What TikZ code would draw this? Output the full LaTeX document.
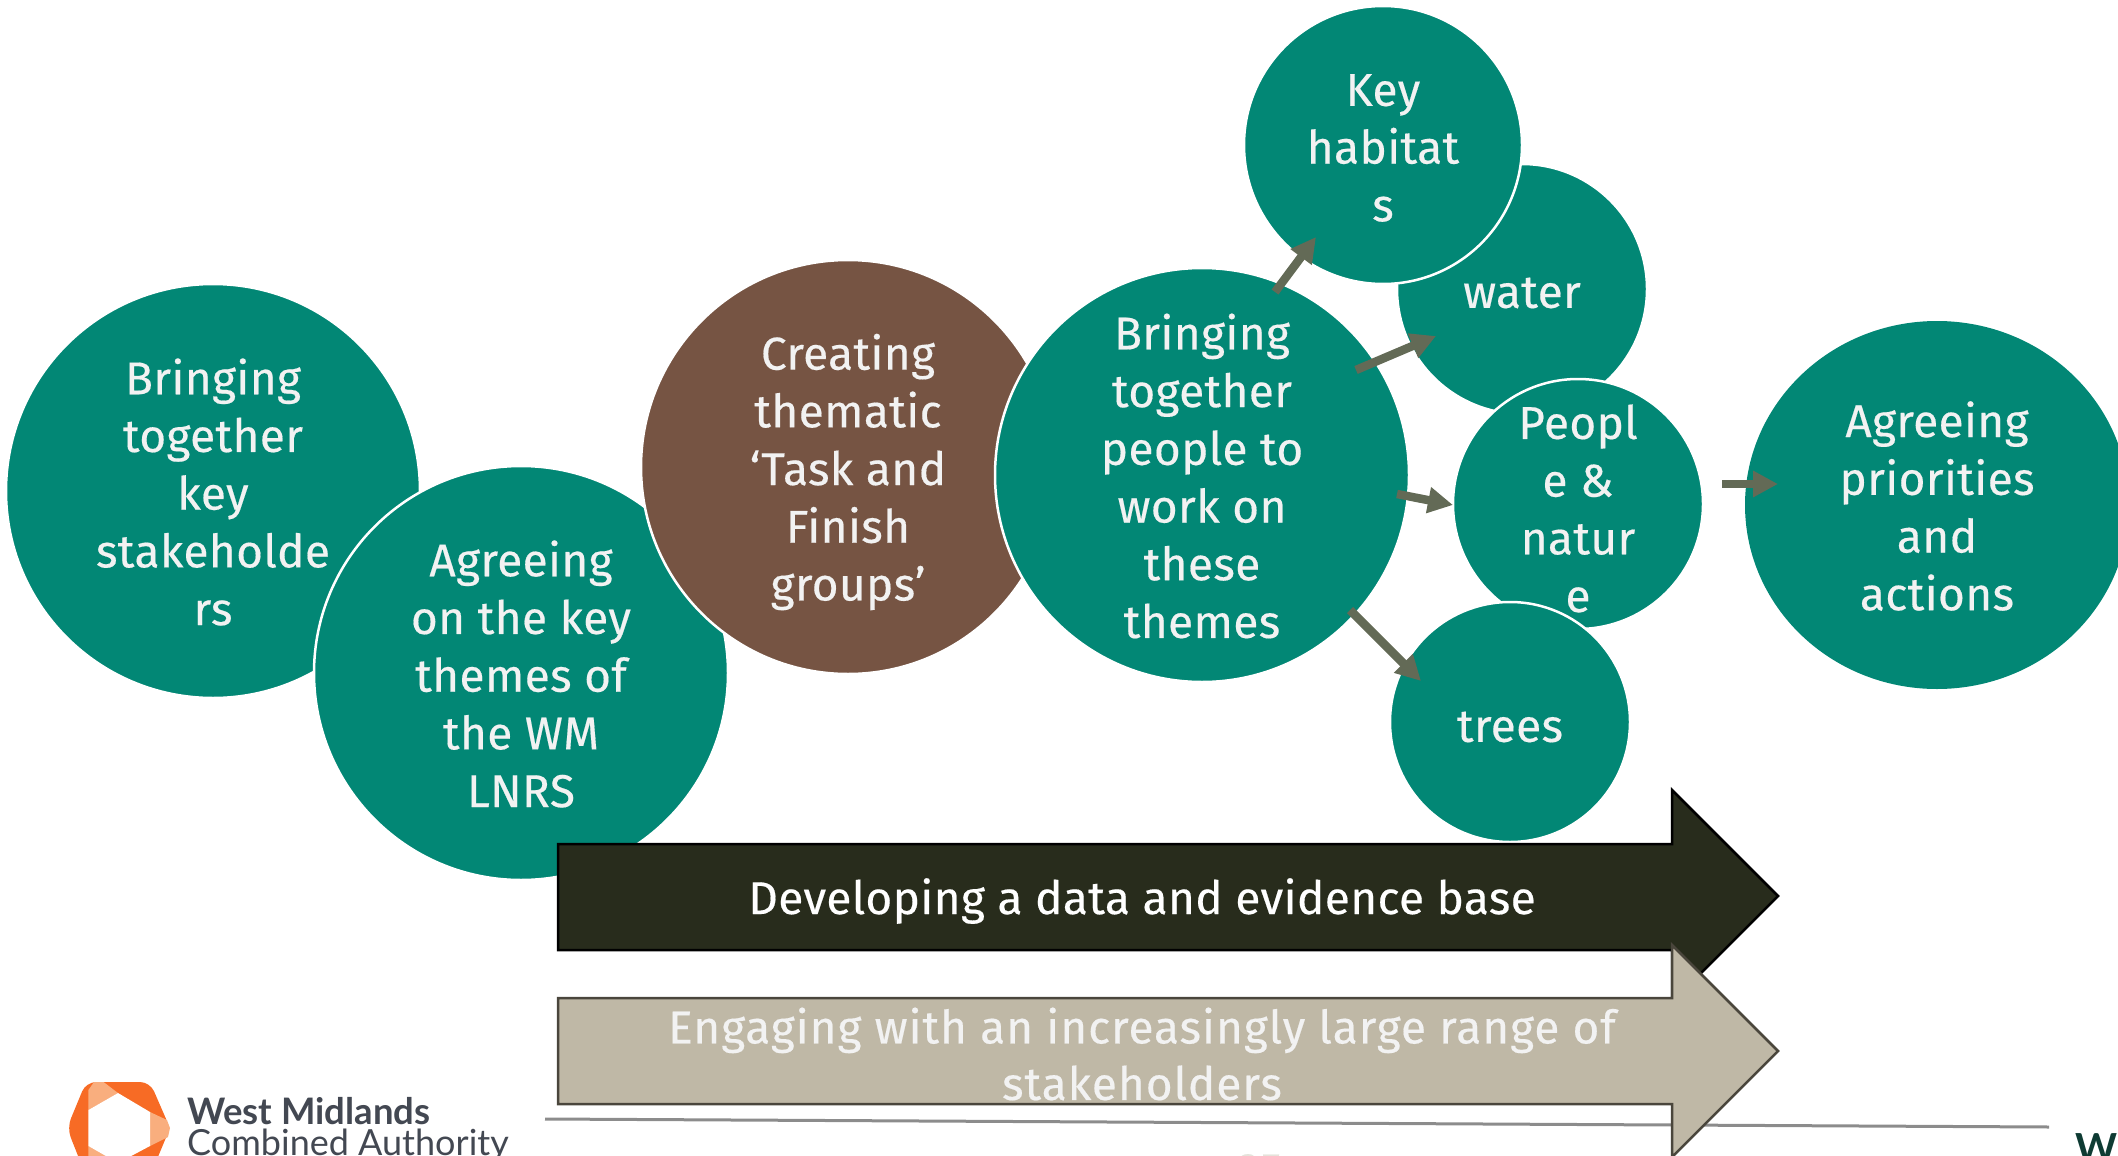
\documentclass[tikz,border=0pt]{standalone}
\usepackage{fontspec}
\setmainfont{Fira Sans}[LetterSpace=0.8,FakeBold=0.35]
\newfontfamily\widefont{Fira Sans}[LetterSpace=2.1,FakeBold=0.35]
\newfontfamily\logofont{Lato}
\usetikzlibrary{arrows.meta,shapes.geometric}
\definecolor{teal}{HTML}{028775}
\definecolor{brownish}{HTML}{765443}
\definecolor{olive}{HTML}{636A56}
\definecolor{darkbar}{HTML}{282C1C}
\definecolor{sandbar}{HTML}{BFB8A6}
\definecolor{sandedge}{HTML}{4A463C}
\definecolor{pale}{HTML}{F2F2F2}
\definecolor{orangeA}{HTML}{F76B25}
\definecolor{orangeB}{HTML}{F9AE7E}
\definecolor{logogrey}{HTML}{434852}
\definecolor{logogreen}{HTML}{0E3B33}
\tikzset{
  disc/.style={circle,fill=teal,draw=white,line width=2.5pt,inner sep=0pt},
  disctext/.style={text=pale,align=center,font=\fontsize{46}{57.7}\selectfont,inner sep=0pt},
  flow/.style={draw=olive,line width=8.5pt,-{Triangle[length=25pt,width=25pt]}},
  bartext/.style={align=center,font=\fontsize{46}{56.5}\selectfont,inner sep=0pt},
}
\begin{document}
\begin{tikzpicture}[x=1pt,y=-1pt]
\useasboundingbox (0,0) rectangle (2118,1156);
\clip (0,0) rectangle (2118,1156);
% circles
\node[disc,minimum size=414pt] (c1) at (213,491) {};
\node[disctext] (t1) at (213,492) {Bringing\\together\\key\\stakeholde\\rs};
\node[disc,minimum size=414pt] (c2) at (521,673) {};
\node[disctext] (t2) at (521,674) {Agreeing\\on the key\\themes of\\the WM\\LNRS};
\node[disc,minimum size=414pt,fill=brownish] (c3) at (848,467) {};
\node[disctext] (t3) at (848,472) {Creating\\thematic\\‘Task and\\Finish\\groups’};
\node[disc,minimum size=414pt] (c4) at (1202,475) {};
\node[disctext] (t4) at (1202,476) {Bringing\\together\\people to\\work on\\these\\themes};
\node[disc,minimum size=250pt] (c5) at (1522,289) {};
\node[disctext] (t5) at (1522,293) {water};
\node[disc,minimum size=278pt] (c6) at (1383,145) {};
\node[disctext] (t6) at (1383,148) {Key\\habitat\\s};
\node[disc,minimum size=250pt] (c7) at (1578,504) {};
\node[disctext] (t7) at (1578,508.5) {Peopl\\e \&\\natur\\e};
\node[disc,minimum size=240pt] (c8) at (1510,722) {};
\node[disctext] (t8) at (1510,727) {trees};
\node[draw=none,fill=teal,ellipse,minimum width=384pt,minimum height=368pt,inner sep=0pt] (c9) at (1937,505) {};
\node[disctext] (t9) at (1937,506) {Agreeing\\priorities\\and\\actions};
% flow arrows
\coordinate (a1) at (1275,292); \coordinate (b1) at (1316,237);
\coordinate (a2) at (1356,370); \coordinate (b2) at (1436,336);
\coordinate (a3) at (1397,494); \coordinate (b3) at (1453,505);
\coordinate (a4) at (1350,610); \coordinate (b4) at (1421,681);
\coordinate (a5) at (1722,484); \coordinate (b5) at (1778,484);
\draw[flow] (a1) -- (b1);
\draw[flow] (a2) -- (b2);
\draw[flow] (a3) -- (b3);
\draw[flow] (a4) -- (b4);
\draw[flow] (a5) -- (b5);
% rule under the bars
\coordinate (r1) at (545,1119); \coordinate (r2) at (2049,1127);
\draw[draw=gray!90,line width=3pt] (r1) -- (r2);
% bars
\draw[fill=darkbar,draw=black,line width=2.5pt] (558,844) -- (1672,844) -- (1672,790) -- (1778,896) -- (1672,1002) -- (1672,950) -- (558,950) -- cycle;
\node[bartext,text=white] (bar1) at (1142,901) {Developing a data and evidence base};
\draw[fill=sandbar,draw=sandedge,line width=2.5pt] (558,998) -- (1672,998) -- (1672,945) -- (1778,1051) -- (1672,1157) -- (1672,1104) -- (558,1104) -- cycle;
\node[bartext,text=pale,font=\widefont\fontsize{46}{56.5}\selectfont] (bar2) at (1142,1054) {Engaging with an increasingly large range of\\stakeholders};
% page number
\node[text=sandbar!40,font=\fontsize{44}{44}\selectfont,anchor=base,inner sep=0pt] (pg) at (1260,1184) {25};
% logo
\fill[orangeA,rounded corners=10pt] (86,1082) -- (150,1082) -- (170,1128) -- (150,1176) -- (86,1176) -- (67,1128) -- cycle;
\fill[orangeB] (88.4,1110) -- (118,1093) -- (103.6,1082) -- (94,1082) -- (88.4,1090) -- cycle;
\fill[orangeB] (150,1112) -- (167,1120) -- (170,1128) -- (168,1137) -- (150,1146) -- cycle;
\fill[orangeB] (88.4,1146) -- (118,1163) -- (105,1176) -- (94,1176) -- (88.4,1166) -- cycle;
\fill[white] (88.4,1110) -- (118,1093) -- (150,1112) -- (150,1146) -- (118,1163) -- (88.4,1146) -- cycle;
\node[anchor=base west,inner sep=0pt,text=logogrey,font=\logofont\bfseries\fontsize{36.5}{36}\selectfont] (wm) at (187,1124) {West Midlands};
\node[anchor=base west,inner sep=0pt,text=logogrey,font=\logofont\fontsize{36}{36}\selectfont] (ca) at (187,1155) {Combined Authority};
\node[anchor=base west,inner sep=0pt,text=logogreen,font=\logofont\bfseries\fontsize{40}{40}\selectfont] (w) at (2075,1162) {W};
\end{tikzpicture}
\end{document}
